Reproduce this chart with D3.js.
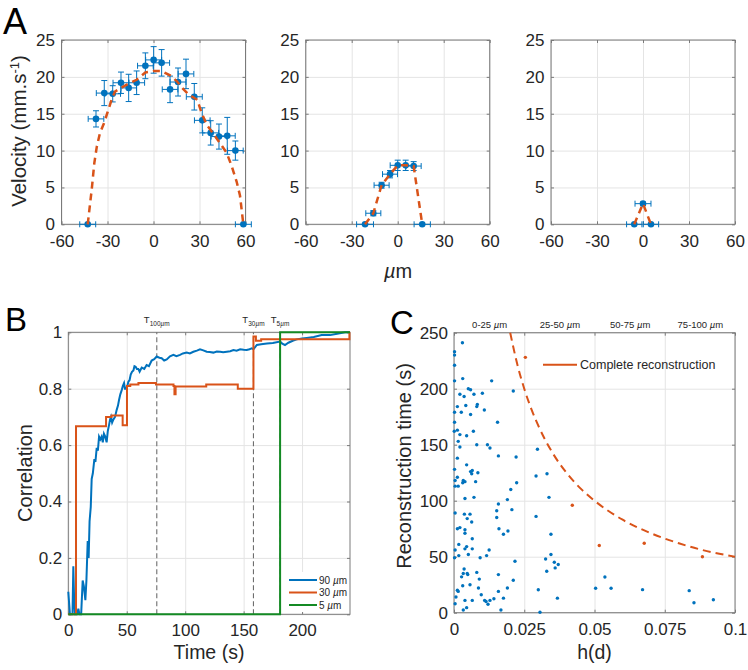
<!DOCTYPE html>
<html><head><meta charset="utf-8">
<script src="https://cdn.jsdelivr.net/npm/d3@7/dist/d3.min.js"></script>
<style>
html,body{margin:0;padding:0;background:#fff;overflow:hidden;}
svg{display:block;}
</style></head>
<body>
<svg id="fig" width="748" height="670"></svg>
<script>
// ---------------- Panel A data (velocity profiles) ----------------
const posA1 = [-42.9,-37.5,-32.1,-26.6,-21.2,-16.2,-11.0,-5.3,0.1,5.3,10.8,16.0,21.2,26.6,31.8,37.3,42.7,48.1,53.4,58.6];
const velA1 = [0,14.3,17.8,17.7,19.2,18.5,19.2,21.5,22.3,21.9,18.3,19.3,20.4,17.3,14.1,12.4,11.9,12.0,10.0,0];
const errA1 = [0,1.1,1.7,1.1,1.45,1.85,1.6,1.75,1.8,1.8,1.8,1.9,2.0,1.8,1.7,1.65,1.7,2.5,1.3,0];
const xerrA1 = [5.2,5.1,5.2,5.1,5.2,5.1,5.2,5.1,5.2,5.2,5.1,5.2,5.1,5.2,5.1,5.2,5.1,5.2,5.1,5.2];
const fitPosA1 = [-42.9,-40.3,-38.6,-37,-34.9,-32.3,-29.5,-27.3,-25.1,-21.2,-16,-11,-5.3,0,5,10.8,15.3,18.7,23,28.5,31.4,34.7,39,43.4,47.7,51,54.2,56.4,58.6];
const fitVelA1 = [0,4.7,8.3,10.5,12.4,13.7,15.5,16.9,18.0,18.5,19.1,19.6,20.6,20.8,20.8,20.2,19.4,18.5,17.6,16.9,15.1,13.5,12.3,11.0,9.7,7.9,5.8,3.9,0];

const posA2 = [-21.3,-15.9,-10.5,-5.0,0,5.2,10.4,16.0];
const velA2 = [0,1.5,5.3,6.8,8.0,8.0,7.9,0];
const errA2 = [0,0.35,0.4,0.5,0.7,0.7,0.6,0];
const xerrA2 = [5.5,4.9,4.9,4.9,4.9,4.9,4.9,5.3];
const fitPosA2 = [-21.3,-15.9,-10.5,-5.0,0,5.2,10.4,16.0];
const fitVelA2 = [0,1.5,5.3,6.8,8.0,8.0,7.9,0];

const posA3 = [-5.7,0,5.2];
const velA3 = [0,2.8,0];
const errA3 = [0,0.2,0];
const xerrA3 = [5.0,5.2,5.0];
const fitPosA3 = [-5.7,0,5.2];
const fitVelA3 = [0,2.8,0];

const ticksA_x = [-60,-30,0,30,60];
const labelsA_x = ['-60','-30','0','30','60'];
const ticksA_y = [0,5,10,15,20,25];
const labelsA_y = ['0','5','10','15','20','25'];

// ---------------- Panel B data (correlation vs time) ----------------
const time90 = [0,1.4,3.6,4.3,5.0,5.7,7.5,8.6,9.5,11,12.3,13.3,14.6,15.5,16.6,17.4,18.2,19.2,20,21,22.3,23.2,24.3,25.3,26.3,27.4,28.5,29.5,30.5,31.6,32.8,33.8,34.8,35.7,36.5,37.5,38.5,40,41.4,42.5,43.4,44.5,45.7,46.7,47.7,48.5,49.4,50.5,51.4,52.4,53.4,54.5,55.7,56.6,57.6,58.7,59.9,61,62.8,65,67,69,71.3,73.5,75.6,78,79.9,82,84.2,87,89.9,92.5,95.6,98,101.3,104,107,110,112.7,115.5,118.4,121,124.1,127,129.9,132.5,135.6,138.5,141.3,144,147,150,152.7,155,157,158.4,161.3,165,170,175,181.2,183,185.4,188.3,192,195.4,200,204,210,216.8,224,230,236.8,240.2];
const corr90 = [0.08,0,0,0.17,0.05,0,0,0.02,0,0,0.12,0.10,0.05,0.12,0.26,0.20,0.33,0.38,0.48,0.50,0.55,0.54,0.59,0.58,0.63,0.62,0.63,0.61,0.64,0.63,0.61,0.65,0.67,0.69,0.70,0.68,0.69,0.70,0.725,0.74,0.76,0.78,0.795,0.81,0.82,0.80,0.80,0.81,0.825,0.83,0.85,0.86,0.865,0.88,0.878,0.87,0.87,0.86,0.875,0.87,0.884,0.88,0.90,0.905,0.914,0.91,0.908,0.90,0.904,0.915,0.92,0.915,0.92,0.925,0.928,0.925,0.931,0.935,0.94,0.936,0.931,0.93,0.928,0.932,0.931,0.929,0.931,0.933,0.937,0.935,0.94,0.938,0.937,0.94,0.943,0.94,0.955,0.958,0.96,0.962,0.967,0.96,0.955,0.963,0.97,0.975,0.978,0.98,0.983,0.99,0.99,0.995,1.0,1.0];
const time30 = [0,6.6,32.3,37,46.5,50.2,53,60,75,90,90.8,91.8,118,145,158.4,160.5,165,240.5,241];
const corr30 = [0,0.667,0.70,0.705,0.67,0.81,0.815,0.82,0.815,0.81,0.78,0.808,0.815,0.80,0.985,0.97,0.975,1.0,1.0];
const time5 = [0,181.2,241];
const corr5 = [0,1,1];
const markTimes = [75.7,158.4,181.2];
const markLabels = ['100','30','5'];
const seriesNamesB = ['90 µm','30 µm','5 µm'];
const ticksB_x = [0,50,100,150,200];
const ticksB_y = [0,0.2,0.4,0.6,0.8,1];
const labelsB_y = ['0','0.2','0.4','0.6','0.8','1'];

// ---------------- Panel C data (reconstruction time vs h(d)) ----------------
const hDist = [0.0030,0.0002,0.0002,0.0002,0.0031,0.0002,0.0134,0.0211,0.0051,0.0059,0.0071,0.0101,0.0021,0.0036,0.0012,0.0042,0.0081,0.0083,0.0108,0.0002,0.0026,0.0059,0.0002,0.0155,
0.0012,0.0001,0.0021,0.0045,0.0069,0.0015,0.0021,0.0081,0.0119,0.0128,0.0158,0.0221,0.0012,0.0045,0.0002,0.0059,0.0065,0.0063,0.0085,0.0012,0.0004,0.0033,0.0039,0.0031,0.0077,0.0004,0.0015,0.0223,0.0202,0.0039,0.0071,0.0190,0.0158,0.0206,0.0152,0.0004,0.0037,0.0057,0.0047,0.0152,0.0297,0.0292,0.0331,0.0338,0.0292,
0.0063,0.0012,0.0021,0.0039,0.0039,0.0065,0.0160,0.0176,0.0192,0.0017,0.0004,0.0039,0.0045,0.0065,0.0125,0.0002,0.0017,0.0051,0.0093,0.0116,0.0217,0.0036,0.0033,0.0047,0.0049,0.0027,0.0081,0.0090,0.0158,0.0211,0.0031,0.0057,0.0012,0.0015,0.0087,0.0097,0.0190,0.0158,0.0007,0.0039,0.0065,0.0109,0.0114,0.0128,0.0142,0.0176,0.0121,0.0004,0.0045,0.0033,0.0167,0.0345,0.0326,0.0345,0.0357,0.0360,0.0371,0.0330,0.0300,0.0368,0.0306,
0.0504,0.0537,0.0559,0.0671,0.0837,0.0854,0.0923];
const tRecon = [241,233,230,221,209,207,207,198,200,199,195,196,195,193,184,185,184,186,181,179,179,177,170,170,
163,162,159,158,162,153,148,150,150,147,140,139,138,132,128,126,127,124,125,121,118,118,117,116,117,113,113,116,110,102,103,101,97,92,91,89,88,88,84,85,146,122,124,103,86,
81,75,76,74,71,66,75,70,73,61,56,57,59,57,56,49,51,52,49,51,46,39,35,35,34,32,36,30,34,29,24,25,20,19,22,16,22,19,14,11,11,11,10,11,12.5,13,7.5,8,4.5,2.4,2.4,70,48,52,45,40,43,37,20.5,13,0.4,
21.8,31.9,21.8,20.6,19.7,8.9,11.6];
const hComplete = [0.0254,0.0421,0.0517,0.0677,0.0884];
const tComplete = [228,96,60,62,50];
const hBound = [0.0200,0.0225,0.025,0.0275,0.03,0.035,0.04,0.045,0.05,0.06,0.07,0.08,0.09,0.1];
const tBound = [250,222,200,182,167,143,125,111,100,83,71,62,55,50];
const ticksC_x = [0,0.025,0.05,0.075,0.1];
const labelsC_x = ['0','0.025','0.05','0.075','0.1'];
const ticksC_y = [0,50,100,150,200,250];
const rangeTicksC = [0.0125,0.0375,0.0625,0.0875];
const rangeLabelsC = ['0-25 µm','25-50 µm','50-75 µm','75-100 µm'];

// ---------------- styling ----------------
const FONT = '"Liberation Sans", Arial, Helvetica, sans-serif';
const BOX = '#7a7a7a', GRID = '#e4e4e4', TXT = '#262626';
const BLUE = '#0072BD', ORANGE = '#D95319', GREEN = '#148a24';
const svg = d3.select('#fig').attr('font-family', FONT);

function muText(sel, str) {
  sel.text(null);
  str.split('µ').forEach((p, i) => {
    if (i > 0) sel.append('tspan').attr('font-style', 'italic').text('µ');
    if (p) sel.append('tspan').text(p);
  });
}

function frame(x, y, o) {
  const g = svg.append('g');
  const [L, R] = x.range(), [B, T] = y.range();
  const clean = s => s.select('.domain').remove();
  g.append('g').attr('transform', `translate(0,${B})`)
    .call(d3.axisBottom(x).tickValues(o.xt).tickSize(T - B).tickFormat(''))
    .call(clean).selectAll('line').attr('stroke', GRID);
  g.append('g').attr('transform', `translate(${L},0)`)
    .call(d3.axisLeft(y).tickValues(o.yt).tickSize(L - R).tickFormat(''))
    .call(clean).selectAll('line').attr('stroke', GRID);
  const tk = 3;
  [[d3.axisBottom(x).tickValues(o.xt), `translate(0,${B})`],
   [d3.axisTop(x).tickValues(o.xt), `translate(0,${T})`],
   [d3.axisLeft(y).tickValues(o.yt), `translate(${L},0)`],
   [d3.axisRight(y).tickValues(o.yt), `translate(${R},0)`]].forEach(([ax, tr]) => {
    g.append('g').attr('transform', tr).call(ax.tickSize(-tk).tickFormat(''))
      .call(clean).selectAll('line').attr('stroke', BOX);
  });
  g.append('rect').attr('x', L).attr('y', T).attr('width', R - L).attr('height', B - T)
    .attr('fill', 'none').attr('stroke', BOX).attr('stroke-width', 1);
  const xa = g.append('g').attr('transform', `translate(0,${B})`)
    .call(d3.axisBottom(x).tickValues(o.xt).tickSize(0).tickPadding(o.xpad).tickFormat((d, i) => o.xl[i]));
  xa.call(clean).attr('font-size', 17).attr('font-family', FONT);
  xa.selectAll('text').attr('fill', TXT);
  const ya = g.append('g').attr('transform', `translate(${L},0)`)
    .call(d3.axisLeft(y).tickValues(o.yt).tickSize(0).tickPadding(o.ypad).tickFormat((d, i) => o.yl[i]));
  ya.call(clean).attr('font-size', 17).attr('font-family', FONT);
  ya.selectAll('text').attr('fill', TXT);
  return g;
}

// ---------------- Panel A ----------------
const yA = d3.scaleLinear().domain([0, 25]).range([224.3, 40]);
const xA = [
  d3.scaleLinear().domain([-60, 60]).range([61.5, 245.5]),
  d3.scaleLinear().domain([-60, 60]).range([305.7, 489.7]),
  d3.scaleLinear().domain([-60, 60]).range([551, 735])
];
const profiles = [
  [posA1, velA1, errA1, xerrA1, fitPosA1, fitVelA1],
  [posA2, velA2, errA2, xerrA2, fitPosA2, fitVelA2],
  [posA3, velA3, errA3, xerrA3, fitPosA3, fitVelA3]
];
profiles.forEach(([px, pv, pe, pxe, fx, fv], k) => {
  const x = xA[k];
  frame(x, yA, {xt: ticksA_x, xl: labelsA_x, yt: ticksA_y, yl: labelsA_y, xpad: 10.5, ypad: 6.5});
  const g = svg.append('g');
  const pts = px.map((d, i) => ({x: d, v: pv[i], e: pe[i], xe: pxe[i]}));
  g.selectAll('path.ve').data(pts.filter(p => p.e > 0)).join('path').attr('class', 've')
    .attr('d', p => `M${x(p.x)},${yA(p.v - p.e)}V${yA(p.v + p.e)}M${x(p.x) - 3},${yA(p.v - p.e)}h6M${x(p.x) - 3},${yA(p.v + p.e)}h6`)
    .attr('stroke', BLUE).attr('stroke-width', 1).attr('fill', 'none');
  g.selectAll('path.he').data(pts).join('path').attr('class', 'he')
    .attr('d', p => `M${x(p.x - p.xe)},${yA(p.v)}H${x(p.x + p.xe)}M${x(p.x - p.xe)},${yA(p.v) - 3}v6M${x(p.x + p.xe)},${yA(p.v) - 3}v6`)
    .attr('stroke', BLUE).attr('stroke-width', 1).attr('fill', 'none');
  g.selectAll('circle').data(pts).join('circle')
    .attr('cx', p => x(p.x)).attr('cy', p => yA(p.v)).attr('r', 3.3).attr('fill', BLUE);
  const line = d3.line().x((d, i) => x(fx[i])).y((d, i) => yA(fv[i]));
  g.append('path').attr('d', line(fx)).attr('fill', 'none').attr('stroke', ORANGE)
    .attr('stroke-width', 2.5).attr('stroke-dasharray', '7,5');
});
const LETTER = '"Liberation Sans", Arial, sans-serif';
svg.append('text').attr('x', 3).attr('y', 34).attr('font-family', LETTER)
  .attr('font-size', 36).attr('fill', '#000').text('A');
svg.append('text').attr('transform', 'translate(26,131) rotate(-90)').attr('text-anchor', 'middle')
  .attr('font-size', 20.5).attr('fill', TXT)
  .call(t => { t.append('tspan').text('Velocity (mm.s'); t.append('tspan').attr('dy', -7).attr('font-size', 13).text('-1'); t.append('tspan').attr('dy', 7).text(')'); });
svg.append('text').attr('x', 398).attr('y', 278).attr('text-anchor', 'middle').attr('font-size', 20).attr('fill', TXT)
  .call(t => muText(t, 'µm'));

// ---------------- Panel B ----------------
const xB = d3.scaleLinear().domain([0, 241]).range([68.3, 350]);
const yB = d3.scaleLinear().domain([0, 1]).range([614.3, 332.3]);
frame(xB, yB, {xt: ticksB_x, xl: ticksB_x.map(String), yt: ticksB_y, yl: labelsB_y, xpad: 10, ypad: 6});
const gB = svg.append('g');
gB.selectAll('line.mark').data(markTimes).join('line').attr('class', 'mark')
  .attr('x1', d => xB(d)).attr('x2', d => xB(d)).attr('y1', yB(0)).attr('y2', yB(1))
  .attr('stroke', '#6e6e6e').attr('stroke-width', 1.1).attr('stroke-dasharray', '5,3');
const lineB = (tt, vv, curve) => d3.line().curve(curve).x((d, i) => xB(tt[i])).y((d, i) => yB(vv[i]))(tt);
gB.append('path').attr('d', lineB(time90, corr90, d3.curveLinear)).attr('fill', 'none').attr('stroke', BLUE).attr('stroke-width', 2);
gB.append('path').attr('d', lineB(time30, corr30, d3.curveStepAfter)).attr('fill', 'none').attr('stroke', ORANGE).attr('stroke-width', 2);
gB.append('path').attr('d', lineB(time5, corr5, d3.curveStepAfter)).attr('fill', 'none').attr('stroke', GREEN).attr('stroke-width', 2);
markTimes.forEach((t, i) => {
  const tx = gB.append('text').attr('x', xB(t)).attr('y', 323).attr('text-anchor', 'middle').attr('fill', TXT).attr('font-size', 9.5);
  tx.append('tspan').text('T');
  tx.append('tspan').attr('dy', 3).attr('font-size', 6.5).text(markLabels[i]);
  tx.append('tspan').attr('font-size', 6.5).attr('font-style', 'italic').text('µ');
  tx.append('tspan').attr('font-size', 6.5).text('m');
});
// legend B
const legB = svg.append('g');
legB.append('rect').attr('x', 285).attr('y', 572).attr('width', 64).attr('height', 40).attr('fill', '#fff');
[BLUE, ORANGE, GREEN].forEach((c, i) => {
  const yy = 580 + i * 12.5;
  legB.append('line').attr('x1', 289).attr('x2', 317).attr('y1', yy).attr('y2', yy).attr('stroke', c).attr('stroke-width', 2);
  legB.append('text').attr('x', 319).attr('y', yy + 3.5).attr('font-size', 10).attr('fill', TXT).call(t => muText(t, seriesNamesB[i]));
});
svg.append('text').attr('x', 5).attr('y', 331).attr('font-family', LETTER)
  .attr('font-size', 33).attr('fill', '#000').text('B');
svg.append('text').attr('transform', 'translate(32,473) rotate(-90)').attr('text-anchor', 'middle')
  .attr('font-size', 20).attr('fill', TXT).text('Correlation');
svg.append('text').attr('x', 209).attr('y', 659).attr('text-anchor', 'middle')
  .attr('font-size', 19.5).attr('fill', TXT).text('Time (s)');

// ---------------- Panel C ----------------
const xC = d3.scaleLinear().domain([0, 0.1]).range([454, 735]);
const yC = d3.scaleLinear().domain([0, 250]).range([612.7, 332.7]);
frame(xC, yC, {xt: ticksC_x, xl: labelsC_x, yt: ticksC_y, yl: ticksC_y.map(String), xpad: 10, ypad: 6});
const gC = svg.append('g');
const topAx = gC.append('g').attr('transform', `translate(0,${yC(250)})`)
  .call(d3.axisTop(xC).tickValues(rangeTicksC).tickSize(0).tickPadding(5).tickFormat((d, i) => rangeLabelsC[i]));
topAx.select('.domain').remove();
topAx.attr('font-size', 9.5).attr('font-family', FONT);
topAx.selectAll('text').attr('fill', TXT).each(function (d, i) { muText(d3.select(this), rangeLabelsC[i]); });
gC.selectAll('circle.blue').data(hDist).join('circle').attr('class', 'blue')
  .attr('cx', d => xC(d)).attr('cy', (d, i) => yC(tRecon[i])).attr('r', 1.7).attr('fill', BLUE);
gC.selectAll('circle.red').data(hComplete).join('circle').attr('class', 'red')
  .attr('cx', d => xC(d)).attr('cy', (d, i) => yC(tComplete[i])).attr('r', 1.7).attr('fill', ORANGE);
gC.append('path').attr('d', d3.line().curve(d3.curveMonotoneX).x((d, i) => xC(hBound[i])).y((d, i) => yC(tBound[i]))(hBound))
  .attr('fill', 'none').attr('stroke', ORANGE).attr('stroke-width', 2).attr('stroke-dasharray', '8,5');
// legend C
gC.append('line').attr('x1', 543).attr('x2', 577).attr('y1', 364.7).attr('y2', 364.7).attr('stroke', ORANGE).attr('stroke-width', 2);
gC.append('text').attr('x', 580).attr('y', 369.3).attr('font-size', 12.5).attr('fill', TXT).text('Complete reconstruction');
svg.append('text').attr('x', 390).attr('y', 334).attr('font-family', LETTER)
  .attr('font-size', 33).attr('fill', '#000').text('C');
svg.append('text').attr('transform', 'translate(411,466) rotate(-90)').attr('text-anchor', 'middle')
  .attr('font-size', 20).attr('fill', TXT).text('Reconstruction time (s)');
svg.append('text').attr('x', 594.5).attr('y', 659).attr('text-anchor', 'middle')
  .attr('font-size', 19.5).attr('fill', TXT).text('h(d)');
</script>
</body></html>
